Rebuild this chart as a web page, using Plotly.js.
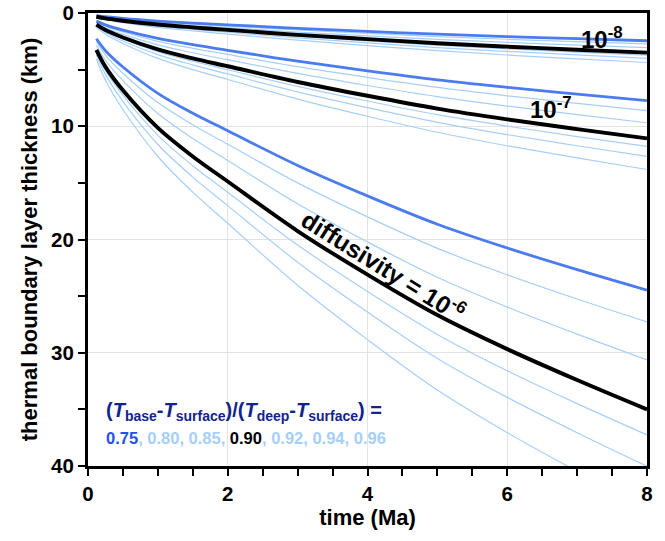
<!DOCTYPE html>
<html>
<head>
<meta charset="utf-8">
<script src="https://cdn.plot.ly/plotly-3.0.1.min.js"></script>
<style>html,body{margin:0;padding:0;background:#fff;}#chart{width:665px;height:541px;}</style>
</head>
<body>
<div id="chart"></div>
<script>
// time axis (Ma)
const timeMa = [0.12, 0.25, 0.5, 1, 1.5, 2, 3, 4, 5, 6, 7, 8];
const ratioLabels = ['0.75', '0.80', '0.85', '0.90', '0.92', '0.94', '0.96'];

// diffusivity = 1e-6 m2/s, thickness (km)
const k6_075 = [2.28, 3.33, 4.77, 7.10, 8.86, 10.40, 13.46, 16.15, 18.65, 20.75, 22.66, 24.47];
const k6_080 = [2.54, 3.71, 5.32, 7.91, 9.87, 11.59, 15.00, 18.00, 20.78, 23.12, 25.25, 27.27];
const k6_085 = [2.85, 4.17, 5.97, 8.88, 11.09, 13.02, 16.85, 20.22, 23.34, 25.97, 28.36, 30.63];
const k6_090 = [3.26, 4.76, 6.83, 10.15, 12.67, 14.88, 19.25, 23.10, 26.67, 29.68, 32.41, 35.00];
const k6_092 = [3.46, 5.07, 7.26, 10.80, 13.48, 15.83, 20.49, 24.59, 28.38, 31.59, 34.49, 37.25];
const k6_094 = [3.72, 5.44, 7.80, 11.61, 14.49, 17.01, 22.01, 26.41, 30.50, 33.94, 37.06, 40.02];
const k6_096 = [4.06, 5.94, 8.52, 12.67, 15.82, 18.57, 24.04, 28.84, 33.30, 37.06, 40.47, 43.70];

// diffusivity = 1e-7
const k7_075 = [0.72, 1.05, 1.51, 2.24, 2.80, 3.29, 4.26, 5.11, 5.90, 6.56, 7.17, 7.74];
const k7_080 = [0.80, 1.17, 1.68, 2.50, 3.12, 3.66, 4.74, 5.69, 6.57, 7.31, 7.98, 8.62];
const k7_085 = [0.90, 1.32, 1.89, 2.81, 3.51, 4.12, 5.33, 6.40, 7.38, 8.22, 8.97, 9.69];
const k7_090 = [1.03, 1.51, 2.16, 3.21, 4.01, 4.70, 6.09, 7.31, 8.44, 9.39, 10.25, 11.07];
const k7_092 = [1.10, 1.60, 2.30, 3.42, 4.26, 5.01, 6.48, 7.77, 8.98, 9.99, 10.91, 11.78];
const k7_094 = [1.18, 1.72, 2.47, 3.67, 4.58, 5.38, 6.96, 8.36, 9.65, 10.74, 11.72, 12.66];
const k7_096 = [1.29, 1.88, 2.69, 4.01, 5.00, 5.87, 7.60, 9.12, 10.53, 11.72, 12.80, 13.82];

// diffusivity = 1e-8
const k8_075 = [0.23, 0.33, 0.48, 0.71, 0.89, 1.04, 1.35, 1.62, 1.87, 2.08, 2.27, 2.45];
const k8_080 = [0.25, 0.37, 0.53, 0.79, 0.99, 1.16, 1.50, 1.80, 2.08, 2.32, 2.53, 2.73];
const k8_085 = [0.28, 0.42, 0.60, 0.89, 1.11, 1.30, 1.68, 2.02, 2.33, 2.59, 2.83, 3.06];
const k8_090 = [0.33, 0.48, 0.68, 1.02, 1.27, 1.49, 1.93, 2.31, 2.67, 2.97, 3.24, 3.50];
const k8_092 = [0.35, 0.51, 0.73, 1.08, 1.35, 1.59, 2.05, 2.46, 2.84, 3.16, 3.45, 3.73];
const k8_094 = [0.37, 0.54, 0.78, 1.16, 1.45, 1.70, 2.20, 2.64, 3.05, 3.39, 3.70, 4.00];
const k8_096 = [0.41, 0.59, 0.85, 1.27, 1.58, 1.86, 2.40, 2.88, 3.33, 3.71, 4.05, 4.37];

const groups = [
  {name: '1e-6', series: [k6_075, k6_080, k6_085, k6_090, k6_092, k6_094, k6_096]},
  {name: '1e-7', series: [k7_075, k7_080, k7_085, k7_090, k7_092, k7_094, k7_096]},
  {name: '1e-8', series: [k8_075, k8_080, k8_085, k8_090, k8_092, k8_094, k8_096]}
];

const BLUE = '#4a7bef', LIGHT = '#a6cff8', BLACK = '#000000';
function styleFor(i) {
  if (i === 0) return {color: BLUE, width: 2.8, layer: 1};
  if (i === 3) return {color: BLACK, width: 3.9, layer: 2};
  return {color: LIGHT, width: 1.2, layer: 0};
}

const traces = [];
for (let layer = 0; layer < 3; layer++) {
  groups.forEach(g => {
    g.series.forEach((s, i) => {
      const st = styleFor(i);
      if (st.layer !== layer) return;
      traces.push({
        x: timeMa, y: s, type: 'scatter', mode: 'lines',
        name: g.name + ' ' + ratioLabels[i],
        line: {color: st.color, width: st.width, shape: 'spline', smoothing: 1},
        hoverinfo: 'skip', showlegend: false
      });
    });
  });
}

const FONT = 'Liberation Sans, Arial, Helvetica, sans-serif';
const axisCommon = {
  showline: true, linecolor: '#000', linewidth: 3, mirror: true,
  ticks: 'outside', ticklen: 7, tickwidth: 2, tickcolor: '#000',
  showgrid: true, gridcolor: '#e3e3e3', gridwidth: 1, zeroline: false,
  tickfont: {family: FONT, size: 20.5, color: '#000', weight: 700}
};

const layout = {
  width: 665, height: 541,
  margin: {l: 88, r: 18, t: 13, b: 75},
  paper_bgcolor: '#fff', plot_bgcolor: '#fff',
  xaxis: Object.assign({}, axisCommon, {
    range: [0, 8], tick0: 0, dtick: 2,
    minor: {dtick: 0.5, ticks: 'outside', ticklen: 7, tickwidth: 2, tickcolor: '#000', showgrid: false},
    title: {text: 'time (Ma)', standoff: 6, font: {family: FONT, size: 22, color: '#000', weight: 700}}
  }),
  yaxis: Object.assign({}, axisCommon, {
    range: [40, 0], tick0: 0, dtick: 10,
    minor: {dtick: 5, ticks: 'outside', ticklen: 7, tickwidth: 2, tickcolor: '#000', showgrid: false},
    title: {text: 'thermal boundary layer thickness (km)', standoff: 8, font: {family: FONT, size: 22, color: '#000', weight: 700}}
  }),
  annotations: [
    {x: 7.36, y: 2.2, xref: 'x', yref: 'y', text: '10<sup>-8</sup>', showarrow: false,
     font: {family: FONT, size: 24, color: '#000', weight: 700}, xanchor: 'center', yanchor: 'middle'},
    {x: 6.62, y: 8.4, xref: 'x', yref: 'y', text: '10<sup>-7</sup>', showarrow: false,
     font: {family: FONT, size: 24, color: '#000', weight: 700}, xanchor: 'center', yanchor: 'middle'},
    {x: 4.23, y: 22.2, xref: 'x', yref: 'y', text: 'diffusivity = 10<sup>-6</sup>', showarrow: false, textangle: 32,
     font: {family: FONT, size: 24.5, color: '#000', weight: 700}, xanchor: 'center', yanchor: 'middle'},
    {x: 0.23, y: 35.2, xref: 'x', yref: 'y', showarrow: false, xanchor: 'left', yanchor: 'middle',
     text: '(<i>T</i><sub>base</sub>-<i>T</i><sub>surface</sub>)/(<i>T</i><sub>deep</sub>-<i>T</i><sub>surface</sub>) =',
     font: {family: FONT, size: 20, color: '#13238c', weight: 700}},
    {x: 0.23, y: 37.5, xref: 'x', yref: 'y', showarrow: false, xanchor: 'left', yanchor: 'middle',
     text: '<span style="color:#1f52ea">' + ratioLabels[0] + '</span>' +
           '<span style="color:#a6cff8">, ' + ratioLabels[1] + ', ' + ratioLabels[2] + ', </span>' +
           '<span style="color:#000000">' + ratioLabels[3] + '</span>' +
           '<span style="color:#a6cff8">, ' + ratioLabels[4] + ', ' + ratioLabels[5] + ', ' + ratioLabels[6] + '</span>',
     font: {family: FONT, size: 16.5, color: '#000', weight: 700}}
  ]
};

Plotly.newPlot('chart', traces, layout, {displayModeBar: false, staticPlot: true});
</script>
</body>
</html>
